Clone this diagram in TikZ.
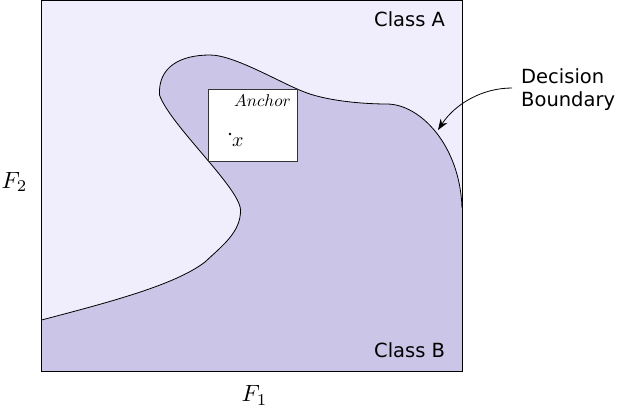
\documentclass[tikz,border=0pt]{standalone}
\usepackage{fontspec}
\usepackage{graphicx}
\setsansfont{DejaVu Sans}
\usetikzlibrary{arrows.meta}
\definecolor{classA}{RGB}{240,238,253}
\definecolor{classB}{RGB}{203,198,232}
\begin{document}
\begin{tikzpicture}[x=1pt,y=-1pt,
  lbl/.style={inner sep=0pt,font=\sffamily\fontsize{19.5}{23}\selectfont},
  mathlbl/.style={inner sep=0pt},
  boundary/.style={line width=0.8pt,black}]
\useasboundingbox (0,0) rectangle (617,407);
% Class A background
\fill[classA] (41.5,0.5) rectangle (462,371);
% Class B region
\def\bcurve{(41.5,320) .. controls (110,302) and (175,285) .. (205,262)
  .. controls (222,246) and (241,232) .. (240.5,210)
  .. controls (240,188) and (170,125) .. (159.5,95)
  .. controls (158,67) and (180,55) .. (210,55)
  .. controls (235,55) and (282,84) .. (307,93)
  .. controls (330,101.3) and (365,104) .. (386.7,104)
  .. controls (420,104) and (460,145) .. (462,208)}
\fill[classB] \bcurve -- (462,371) -- (41.5,371) -- cycle;
\draw[boundary] \bcurve;
% frame
\draw[line width=0.8pt] (41.5,0.5) rectangle (462,371);
% anchor box
\draw[fill=white,draw=black!80,line width=0.9pt] (208.3,89) rectangle (297.3,161.7);
\node[mathlbl,anchor=base west] (anchor) at (234,106.7) {\scalebox{1.7}{$Anchor$}};
\fill (230,134) circle (1.4);
\node[mathlbl,anchor=base west] (x) at (232,146) {\scalebox{2.0}{$x$}};
% labels
\node[lbl,anchor=base west] (ca) at (374,26.7) {Class A};
\node[lbl,anchor=base west] (cb) at (374,357.3) {Class B};
\node[lbl,anchor=west,align=left] (db) at (521,90) {Decision\\Boundary};
\node[mathlbl,anchor=base west] (f2) at (1.5,188) {\scalebox{2.35}{$F_2$}};
\node[mathlbl,anchor=base west] (f1) at (241.5,401.5) {\scalebox{2.35}{$F_1$}};
% arrow
\coordinate (astart) at (512,88);
\coordinate (aend) at (438,130);
\draw[line width=0.8pt,-{Stealth[length=11pt,width=8pt]}] (astart) .. controls (482,88) and (455,104) .. (aend);
\end{tikzpicture}
\end{document}
